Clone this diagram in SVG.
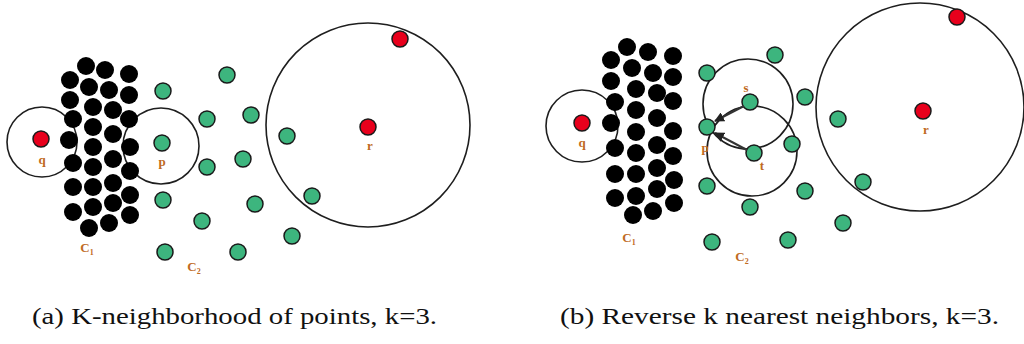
<svg xmlns="http://www.w3.org/2000/svg" width="1024" height="344" viewBox="0 0 1024 344">
<style>
.bk{fill:#000}
.gr{fill:#3db57e;stroke:#1a1a1a;stroke-width:1.5}
.rd{fill:#e8001c;stroke:#1a1a1a;stroke-width:1.5}
.ring{fill:none;stroke:#1e1e1e;stroke-width:1.6}
.lb{font-family:"Liberation Serif",serif;font-weight:bold;font-size:13px;fill:#bf6a22;text-anchor:middle}
.cap{font-family:"Liberation Serif",serif;font-size:24px;fill:#111}
.ar{stroke:#333;stroke-width:2;fill:none;marker-end:url(#ah)}
</style>
<defs>
<marker id="ah" viewBox="0 0 10 10" refX="9" refY="5" markerWidth="5" markerHeight="5" orient="auto">
<path d="M0,0 L10,5 L0,10 z" fill="#222"/>
</marker>
</defs>
<rect width="1024" height="344" fill="#fff"/>

<g id="panel-a">
<g id="a-circles">
<circle class="ring" cx="42" cy="142" r="35"/>
<circle class="ring" cx="161" cy="146" r="38"/>
<circle class="ring" cx="368" cy="125" r="102"/>
</g>
<g id="a-cluster1">
<circle class="bk" cx="70" cy="80" r="9"/><circle class="bk" cx="70" cy="100" r="9"/><circle class="bk" cx="73" cy="119" r="9"/><circle class="bk" cx="69" cy="140" r="9"/><circle class="bk" cx="73" cy="163" r="9"/><circle class="bk" cx="73" cy="187" r="9"/><circle class="bk" cx="73" cy="212" r="9"/>
<circle class="bk" cx="86" cy="66" r="9"/><circle class="bk" cx="89" cy="87" r="9"/><circle class="bk" cx="93" cy="107" r="9"/><circle class="bk" cx="93" cy="127" r="9"/><circle class="bk" cx="93" cy="147" r="9"/><circle class="bk" cx="93" cy="167" r="9"/><circle class="bk" cx="93" cy="187" r="9"/><circle class="bk" cx="93" cy="207" r="9"/><circle class="bk" cx="89" cy="228" r="9"/>
<circle class="bk" cx="105" cy="70" r="9"/><circle class="bk" cx="109" cy="90" r="9"/><circle class="bk" cx="113" cy="110" r="9"/><circle class="bk" cx="113" cy="134" r="9"/><circle class="bk" cx="113" cy="159" r="9"/><circle class="bk" cx="113" cy="183" r="9"/><circle class="bk" cx="113" cy="203" r="9"/><circle class="bk" cx="109" cy="223" r="9"/>
<circle class="bk" cx="129" cy="74" r="9"/><circle class="bk" cx="129" cy="95" r="9"/><circle class="bk" cx="129" cy="119" r="9"/><circle class="bk" cx="130" cy="147" r="9"/><circle class="bk" cx="130" cy="171" r="9"/><circle class="bk" cx="130" cy="195" r="9"/><circle class="bk" cx="130" cy="215" r="9"/>
</g>
<g id="a-cluster2">
<circle class="gr" cx="227" cy="75" r="8"/><circle class="gr" cx="163" cy="91" r="8"/><circle class="gr" cx="207" cy="119" r="8"/><circle class="gr" cx="251" cy="115" r="8"/><circle class="gr" cx="287" cy="136" r="8"/><circle class="gr" cx="162" cy="143" r="8"/><circle class="gr" cx="243" cy="159" r="8"/><circle class="gr" cx="207" cy="167" r="8"/><circle class="gr" cx="163" cy="200" r="8"/><circle class="gr" cx="255" cy="204" r="8"/><circle class="gr" cx="312" cy="196" r="8"/><circle class="gr" cx="202" cy="221" r="8"/><circle class="gr" cx="292" cy="236" r="8"/><circle class="gr" cx="165" cy="252" r="8"/><circle class="gr" cx="238" cy="252" r="8"/>
</g>
<g id="a-outliers">
<circle class="rd" cx="41" cy="139" r="8"/>
<circle class="rd" cx="368" cy="127" r="8"/>
<circle class="rd" cx="400" cy="39" r="8"/>
</g>
<g id="a-labels">
<text class="lb" x="42" y="164">q</text>
<text class="lb" x="162" y="166">p</text>
<text class="lb" x="370" y="150">r</text>
<text class="lb" x="87" y="252">C<tspan font-size="8" dy="3">1</tspan></text>
<text class="lb" x="194" y="271">C<tspan font-size="8" dy="3">2</tspan></text>
</g>
<text class="cap" x="32" y="324" textLength="405" lengthAdjust="spacingAndGlyphs">(a) K-neighborhood of points, k=3.</text>
</g>

<g id="panel-b">
<g id="b-circles">
<circle class="ring" cx="582" cy="126" r="36"/>
<circle class="ring" cx="748" cy="104" r="45"/>
<circle class="ring" cx="752" cy="151" r="45"/>
<circle class="ring" cx="920" cy="107" r="104"/>
</g>
<g id="b-cluster1">
<circle class="bk" cx="611" cy="60" r="9"/><circle class="bk" cx="611" cy="81" r="9"/><circle class="bk" cx="615" cy="102" r="9"/><circle class="bk" cx="611" cy="123" r="9"/><circle class="bk" cx="615" cy="148" r="9"/><circle class="bk" cx="615" cy="174" r="9"/><circle class="bk" cx="615" cy="198" r="9"/>
<circle class="bk" cx="627" cy="47" r="9"/><circle class="bk" cx="632" cy="68" r="9"/><circle class="bk" cx="636" cy="89" r="9"/><circle class="bk" cx="636" cy="110" r="9"/><circle class="bk" cx="636" cy="132" r="9"/><circle class="bk" cx="636" cy="153" r="9"/><circle class="bk" cx="636" cy="174" r="9"/><circle class="bk" cx="636" cy="196" r="9"/><circle class="bk" cx="633" cy="215" r="9"/>
<circle class="bk" cx="648" cy="52" r="9"/><circle class="bk" cx="653" cy="73" r="9"/><circle class="bk" cx="657" cy="93" r="9"/><circle class="bk" cx="657" cy="118" r="9"/><circle class="bk" cx="657" cy="145" r="9"/><circle class="bk" cx="657" cy="168" r="9"/><circle class="bk" cx="657" cy="189" r="9"/><circle class="bk" cx="653" cy="211" r="9"/>
<circle class="bk" cx="673" cy="56" r="9"/><circle class="bk" cx="673" cy="77" r="9"/><circle class="bk" cx="673" cy="101" r="9"/><circle class="bk" cx="673" cy="131" r="9"/><circle class="bk" cx="673" cy="156" r="9"/><circle class="bk" cx="674" cy="180" r="9"/><circle class="bk" cx="674" cy="203" r="9"/>
</g>
<g id="b-cluster2">
<circle class="gr" cx="775" cy="55" r="8"/><circle class="gr" cx="707" cy="73" r="8"/><circle class="gr" cx="750" cy="102" r="8"/><circle class="gr" cx="805" cy="97" r="8"/><circle class="gr" cx="838" cy="119" r="8"/><circle class="gr" cx="707" cy="127" r="8"/><circle class="gr" cx="792" cy="144" r="8"/><circle class="gr" cx="754" cy="153" r="8"/><circle class="gr" cx="707" cy="186" r="8"/><circle class="gr" cx="805" cy="191" r="8"/><circle class="gr" cx="863" cy="182" r="8"/><circle class="gr" cx="750" cy="207" r="8"/><circle class="gr" cx="843" cy="223" r="8"/><circle class="gr" cx="712" cy="242" r="8"/><circle class="gr" cx="788" cy="240" r="8"/>
</g>
<g id="b-outliers">
<circle class="rd" cx="582" cy="123" r="8"/>
<circle class="rd" cx="923" cy="111" r="8"/>
<circle class="rd" cx="957" cy="17" r="8"/>
</g>
<g id="b-connectors">
<line class="ar" x1="744" y1="106" x2="715" y2="121"/>
<line class="ar" x1="747" y1="150" x2="715" y2="133"/>
</g>
<g id="b-labels">
<text class="lb" x="582" y="147">q</text>
<text class="lb" x="746" y="92">s</text>
<text class="lb" x="705" y="152">p</text>
<text class="lb" x="762" y="170">t</text>
<text class="lb" x="926" y="134">r</text>
<text class="lb" x="629" y="242">C<tspan font-size="8" dy="3">1</tspan></text>
<text class="lb" x="742" y="261">C<tspan font-size="8" dy="3">2</tspan></text>
</g>
<text class="cap" x="560" y="324" textLength="439" lengthAdjust="spacingAndGlyphs">(b) Reverse k nearest neighbors, k=3.</text>
</g>
</svg>
